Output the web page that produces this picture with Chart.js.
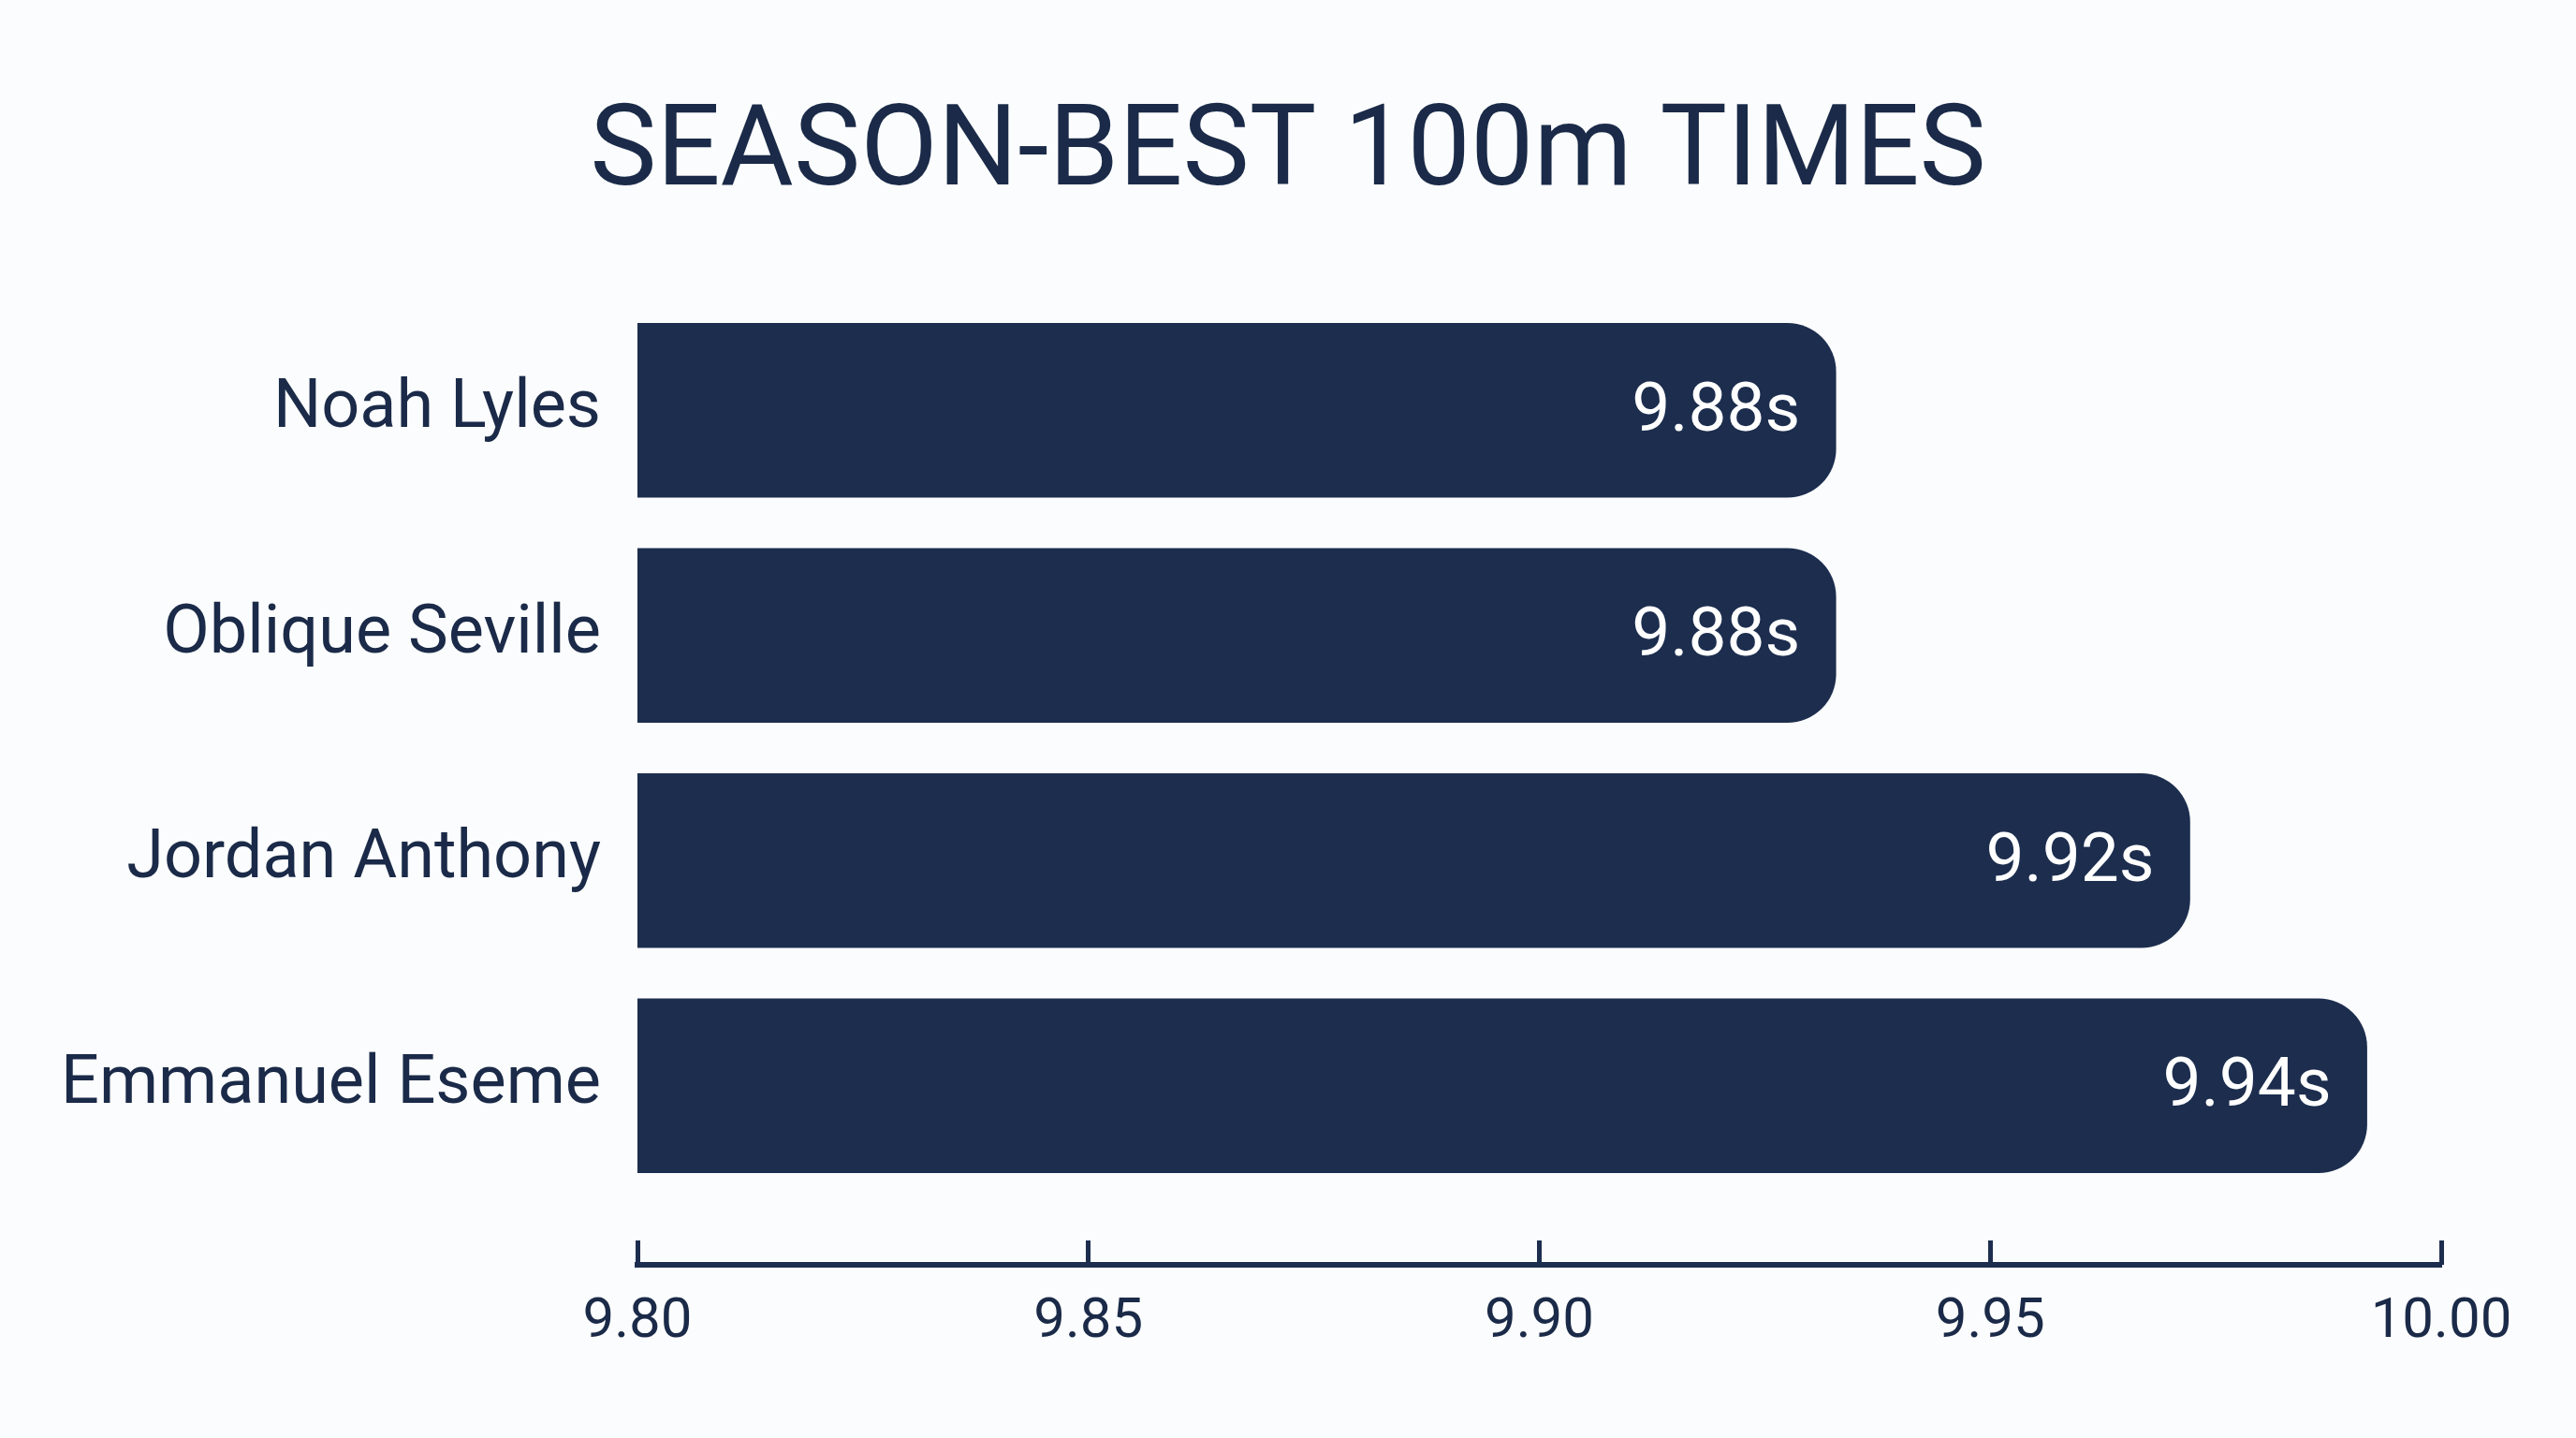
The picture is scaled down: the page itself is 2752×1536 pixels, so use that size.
<!DOCTYPE html>
<html>
<head>
<meta charset="utf-8">
<title>Season-best 100m times</title>
<script src="https://cdn.jsdelivr.net/npm/chart.js@4.4.1/dist/chart.umd.min.js"></script>
<style>
    html, body { margin: 0; padding: 0; background: #fbfcfd; }
    #wrap { width: 2752px; height: 1536px; }
</style>
</head>
<body>
<div id="wrap"><canvas id="timesChart"></canvas></div>
<script>
// Chart data
const athletes = ['Noah Lyles', 'Oblique Seville', 'Jordan Anthony', 'Emmanuel Eseme'];
const times = [9.88, 9.88, 9.92, 9.94];
const tickValues = [9.80, 9.85, 9.90, 9.95, 10.00];

const navy = '#1c2d4e';
const textNavy = '#1a2a48';

Chart.defaults.font.family = 'Roboto, "Open Sans", sans-serif';
Chart.defaults.color = textNavy;

// Writes the time inside the right end of each bar
const barValueLabels = {
    id: 'barValueLabels',
    afterDatasetsDraw(chart) {
        const ctx = chart.ctx;
        const meta = chart.getDatasetMeta(0);
        ctx.save();
        ctx.font = '73px Roboto';
        ctx.fillStyle = '#ffffff';
        ctx.textAlign = 'right';
        ctx.textBaseline = 'middle';
        meta.data.forEach((bar, i) => {
            ctx.fillText(times[i].toFixed(2) + 's', bar.x - 38, bar.y + 3);
        });
        ctx.restore();
    }
};

const setTicks = (values) => (axis) => {
    axis.ticks = values.map(v => ({ value: v }));
};

// empty axis used only to reserve room
const spacer = (pos, weight, size) => ({
    type: 'linear',
    position: pos,
    weight: weight,
    grid: { display: false, drawTicks: false },
    border: { display: false },
    ticks: { display: false },
    afterFit: (scale) => {
        if (scale.isHorizontal()) scale.height = size; else scale.width = size;
    }
});

const ctx = document.getElementById('timesChart').getContext('2d');
new Chart(ctx, {
    type: 'bar',
    data: {
        labels: athletes,
        datasets: [{
            data: times,
            xAxisID: 'xv',
            yAxisID: 'y',
            backgroundColor: navy,
            borderWidth: 0,
            borderRadius: 52,
            barThickness: 186
        }]
    },
    options: {
        indexAxis: 'y',
        responsive: true,
        maintainAspectRatio: false,
        animation: false,
        layout: {
            padding: { left: 0, right: 0, top: 0, bottom: 61 }
        },
        plugins: {
            legend: { display: false },
            tooltip: { enabled: false },
            title: {
                display: true,
                text: 'SEASON-BEST 100m TIMES',
                color: textNavy,
                font: { size: 120, weight: 'normal' },
                padding: { top: 95, bottom: 79 }
            }
        },
        scales: {
            // scale the bars are measured on
            xv: {
                type: 'linear',
                position: 'bottom',
                display: false,
                min: 9.7446,
                max: 9.9484
            },
            xs: spacer('bottom', -1, 45),
            // tick marks above the axis line
            x: {
                type: 'linear',
                position: 'bottom',
                weight: 0,
                min: 9.80,
                max: 10.00,
                afterBuildTicks: setTicks(tickValues),
                grid: {
                    drawOnChartArea: false,
                    drawTicks: true,
                    tickLength: 26,
                    lineWidth: 5,
                    color: navy
                },
                border: { display: false },
                ticks: { display: false }
            },
            // axis line and tick labels
            xb: {
                type: 'linear',
                position: 'bottom',
                weight: 1,
                min: 9.80,
                max: 10.00,
                afterBuildTicks: setTicks(tickValues),
                grid: { display: false, drawTicks: false },
                border: { display: true, color: navy, width: 6 },
                ticks: {
                    padding: 26,
                    color: textNavy,
                    font: { size: 60 },
                    maxRotation: 0,
                    callback: (value) => Number(value).toFixed(2)
                }
            },
            y: {
                type: 'category',
                offset: true,
                afterFit: (scale) => { scale.width = 681; },
                grid: { display: false, drawTicks: false },
                border: { display: false },
                ticks: {
                    padding: 39,
                    color: textNavy,
                    font: { size: 72 }
                }
            },
            yr: spacer('right', 0, 144)
        }
    },
    plugins: [barValueLabels]
});
</script>
</body>
</html>
